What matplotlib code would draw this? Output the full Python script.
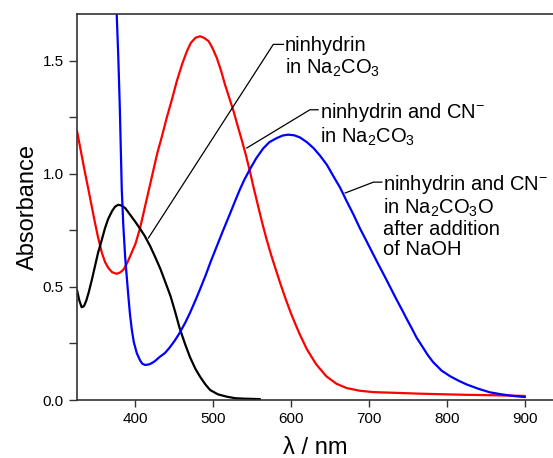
import numpy as np
import matplotlib
matplotlib.use("Agg")
import matplotlib.pyplot as plt

plt.rcParams['font.family'] = ['Liberation Sans', 'DejaVu Sans']
plt.rcParams['mathtext.fontset'] = 'custom'
plt.rcParams['mathtext.rm'] = 'Liberation Sans'
plt.rcParams['mathtext.it'] = 'Liberation Sans:italic'

# ninhydrin in Na2CO3 (black)
wl_black = [325, 328, 331, 334, 337, 340, 344, 348, 352, 357, 361, 365, 370, 374, 378,
            382, 387, 393, 400, 406, 412, 419, 425, 432, 438, 445, 451, 457, 464, 470,
            477, 483, 490, 496, 506, 517, 528, 539, 550, 560]
abs_black = [0.487, 0.44, 0.41, 0.415, 0.44, 0.475, 0.53, 0.59, 0.65, 0.71, 0.76, 0.80,
             0.835, 0.855, 0.863, 0.86, 0.848, 0.82, 0.787, 0.757, 0.725, 0.68, 0.635,
             0.58, 0.525, 0.46, 0.39, 0.315, 0.245, 0.19, 0.138, 0.103, 0.068, 0.044,
             0.025, 0.015, 0.008, 0.006, 0.005, 0.004]

# ninhydrin and CN- in Na2CO3 (red)
wl_red = [325, 330, 335, 340, 344, 348, 352, 357, 361, 365, 370, 376, 381, 385, 390,
          395, 400, 406, 412, 417, 422, 428, 434, 440, 447, 453, 460, 466, 471, 477,
          483, 488, 494, 499, 504.5, 510, 515, 521, 526, 531, 537, 542, 547, 552, 558,
          563, 568, 573, 578, 586, 593, 600, 606, 611, 620, 632, 645, 658, 671, 688,
          705, 740, 765, 800, 825, 860, 900]
abs_red = [1.19, 1.10, 1.01, 0.925, 0.855, 0.785, 0.72, 0.65, 0.61, 0.585, 0.565, 0.558,
           0.565, 0.578, 0.61, 0.65, 0.69, 0.76, 0.85, 0.925, 1.0, 1.09, 1.165, 1.245,
           1.33, 1.408, 1.485, 1.541, 1.578, 1.601, 1.608, 1.601, 1.586, 1.555, 1.512,
           1.455, 1.394, 1.33, 1.276, 1.215, 1.143, 1.08, 1.01, 0.935, 0.85, 0.78, 0.715,
           0.655, 0.60, 0.515, 0.445, 0.38, 0.33, 0.29, 0.225, 0.158, 0.105, 0.072, 0.053,
           0.041, 0.035, 0.031, 0.028, 0.025, 0.023, 0.021, 0.018]

# ninhydrin and CN- after addition of NaOH (blue)
wl_blue = [374, 376, 378, 380, 382.5, 384.5, 386.8, 389, 391, 393, 395.4, 398, 401.8,
           406, 409, 412.5, 417, 421, 425, 431, 438, 444, 451, 457, 464, 470, 477, 483,
           490, 497, 504.5, 512, 521.6, 528, 534, 540, 547, 555, 564, 572, 581.5, 589,
           596, 604, 611, 620, 628.5, 637, 645.7, 654, 663, 671, 680, 688, 697, 710,
           722, 735, 742, 748, 755, 761, 768, 775, 782, 793, 804, 815, 825, 840, 855,
           870, 885, 900]
abs_blue = [1.9, 1.705, 1.52, 1.29, 0.93, 0.77, 0.634, 0.54, 0.457, 0.38, 0.31, 0.255,
            0.207, 0.175, 0.16, 0.155, 0.157, 0.163, 0.172, 0.19, 0.208, 0.232, 0.265,
            0.298, 0.342, 0.385, 0.44, 0.49, 0.55, 0.615, 0.68, 0.745, 0.825, 0.88, 0.93,
            0.975, 1.02, 1.068, 1.112, 1.14, 1.158, 1.169, 1.173, 1.17, 1.161, 1.14,
            1.114, 1.08, 1.04, 0.99, 0.937, 0.88, 0.819, 0.76, 0.70, 0.612, 0.533, 0.445,
            0.40, 0.36, 0.315, 0.275, 0.238, 0.20, 0.168, 0.13, 0.105, 0.085, 0.069, 0.05,
            0.034, 0.025, 0.018, 0.013]

xticks = [400, 500, 600, 700, 800, 900]
yticks = [0.0, 0.5, 1.0, 1.5]

fig = plt.figure(figsize=(5.53, 4.58), dpi=100)
ax = fig.add_axes([0.1392, 0.1266, 0.8608, 0.8422])

style = dict(lw=1.6, solid_joinstyle='round', solid_capstyle='round')
ax.plot(wl_red, abs_red, color='#ff0000', **style)
ax.plot(wl_black, abs_black, color='black', **style)
ax.plot(wl_blue, abs_blue, color='#0000ff', **style)

ax.set_xlim(325, 936)
ax.set_ylim(0, 1.705)
ax.set_xticks(xticks)
ax.set_yticks(yticks)
ax.set_yticks(np.arange(0.25, 1.7, 0.5), minor=True)
ax.set_yticklabels(['%.1f' % v for v in yticks])
ax.tick_params(axis='both', direction='out', labelsize=11, color='#333333',
               width=1.0, length=6)
ax.tick_params(axis='y', which='minor', direction='out', color='#333333',
               width=1.0, length=6)
ax.tick_params(axis='x', length=5)
for s in ['left', 'bottom', 'top']:
    ax.spines[s].set_color('#333333')
    ax.spines[s].set_linewidth(1.2)
ax.spines['right'].set_visible(False)

ax.set_ylabel('Absorbance', fontsize=17, labelpad=3)
ax.set_xlabel('λ / nm', fontsize=17, labelpad=8)

# labels with leader lines: (text, text x, text y, elbow x, elbow y, end x, target x, target y)
labels = [
    ('ninhydrin\nin Na$_\\mathregular{2}$CO$_\\mathregular{3}$',
     592, 1.607, 577, 1.572, 590, 416.7, 0.716),
    ('ninhydrin and CN$^{-}$\nin Na$_\\mathregular{2}$CO$_\\mathregular{3}$',
     637, 1.320, 624, 1.283, 634.5, 543, 1.114),
    ('ninhydrin and CN$^{-}$\nin Na$_\\mathregular{2}$CO$_\\mathregular{3}$O\nafter addition\nof NaOH',
     718.4, 1.004, 705.5, 0.963, 716.3, 669.2, 0.915),
]
for txt, tx, ty, ex, ey, hx, px, py in labels:
    ax.plot([px, ex, hx], [py, ey, ey], color='black', lw=0.9)
    ax.text(tx, ty, txt, fontsize=14.5, va='top', ha='left', linespacing=1.05)

fig.savefig('out.png', dpi=100)
